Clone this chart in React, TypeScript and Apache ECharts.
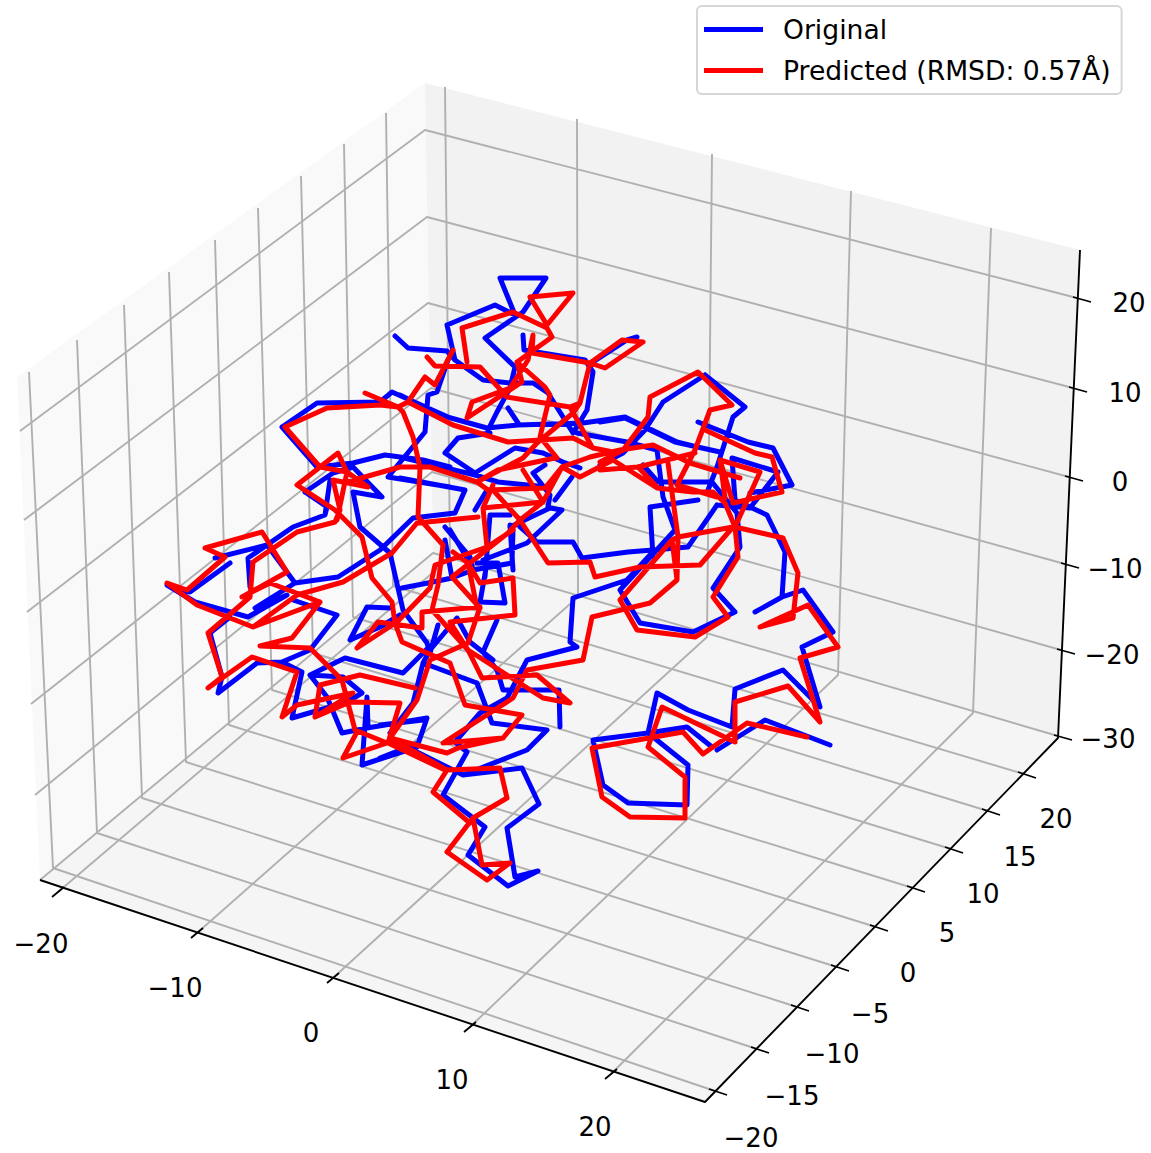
import React, { useEffect, useRef } from "react";
import * as echarts from "echarts";

type P = [number, number];
const W = 1151;
const H = 1153;
const FONT = "'DejaVu Sans', sans-serif";

// Screen-projected traces (the 3D view is flat in this chart)
const originalTrace: P[][] = [
  [[395,336],[408,348],[447,351],[455,360],[483,380],[510,383],[533,383],[548,393],[573,433],[587,410],[593,372],[585,360],[524,350],[523,335]],
  [[593,362],[627,340],[637,337]],
  [[447,325],[495,305],[515,315],[500,278],[546,278],[523,312],[485,338],[515,367],[510,388],[497,412],[488,430]],
  [[447,325],[455,360]],
  [[518,423],[508,408]],
  [[705,375],[663,402],[645,430],[623,453],[600,465]],
  [[705,375],[745,407],[733,417],[717,467],[708,490]],
  [[717,505],[688,547],[653,550],[628,552],[582,558],[573,542],[537,542],[520,527]],
  [[698,422],[748,442],[773,448],[792,485],[750,493]],
  [[732,458],[778,472],[750,508],[717,505]],
  [[732,458],[735,500],[767,515],[785,552],[782,597],[755,612]],
  [[782,597],[803,590],[833,632],[802,647],[820,707],[783,670],[735,689],[732,727],[688,710],[657,693],[648,733],[593,740],[603,785],[628,803],[687,805],[688,765],[648,733],[687,727],[712,747]],
  [[717,750],[765,720],[830,745]],
  [[698,500],[650,507],[653,557]],
  [[657,450],[663,497],[675,530],[620,590],[640,623],[693,632],[735,612],[713,588],[740,547],[737,513],[712,482],[658,482],[643,465]],
  [[600,422],[625,418],[675,442],[720,452]],
  [[577,433],[627,442],[657,450]],
  [[400,395],[440,415],[487,428],[518,425],[583,423],[625,417],[677,442],[697,447]],
  [[445,453],[458,438],[490,433]],
  [[445,453],[475,473],[515,448],[543,453],[563,462],[580,468]],
  [[400,457],[475,475],[498,482],[547,487]],
  [[475,510],[487,490]],
  [[485,577],[490,515],[510,515]],
  [[510,525],[513,570]],
  [[445,527],[470,557],[473,570]],
  [[510,527],[550,508],[562,510],[527,543],[483,560]],
  [[548,507],[550,495],[533,473],[545,465]],
  [[572,477],[555,500]],
  [[282,427],[317,403],[380,402],[392,392],[448,417]],
  [[282,427],[317,467],[353,463],[385,455],[423,460],[450,467]],
  [[305,492],[333,473],[353,467],[382,497],[353,492],[360,527],[390,553],[403,610],[427,643],[430,653]],
  [[305,492],[327,507],[325,515],[293,527],[248,558],[250,587]],
  [[330,480],[325,515]],
  [[450,487],[388,477],[425,432],[428,395],[437,392],[448,360]],
  [[400,478],[465,490],[455,513],[413,518],[380,550],[338,577],[295,583],[267,545],[215,558]],
  [[230,563],[190,592],[167,585],[195,602],[248,617],[287,595],[257,608]],
  [[295,583],[255,608]],
  [[230,617],[210,633],[222,677],[218,693],[257,663],[282,662],[310,650],[337,615],[293,600]],
  [[282,662],[302,672],[292,718],[347,702],[362,693],[343,677],[310,675],[345,658],[403,673],[428,648]],
  [[310,675],[327,697],[342,733],[367,728],[427,718],[417,747],[362,765],[367,697],[368,727]],
  [[390,608],[367,607],[350,640],[380,627],[400,615]],
  [[430,653],[438,625]],
  [[402,588],[428,583],[452,578],[473,570],[512,563],[513,530]],
  [[423,663],[450,673],[477,683]],
  [[452,578],[445,540]],
  [[470,563],[450,530]],
  [[477,563],[498,563],[505,603],[480,602],[487,563]],
  [[497,620],[483,652],[497,670],[503,690],[559,690],[560,727]],
  [[493,660],[470,642],[457,618],[430,650],[423,663],[413,703],[390,733]],
  [[423,720],[380,725]],
  [[418,743],[380,758]],
  [[393,740],[447,767],[463,775],[527,750],[547,730],[492,723],[477,683]],
  [[463,775],[522,768],[539,804],[507,828],[515,877],[538,871],[508,886],[468,855],[485,827],[443,795],[467,752],[455,742],[480,713],[507,698],[527,660],[577,647],[570,642],[573,598],[627,580],[650,555]],
];

const predictedTrace: P[][] = [
  [[530,297],[573,293],[547,325],[530,297]],
  [[513,312],[547,328],[552,337],[517,362],[545,387],[550,395],[540,437],[557,458]],
  [[513,312],[462,328],[467,362]],
  [[427,357],[435,366],[480,367],[507,397],[570,407],[580,403],[590,363],[532,353],[533,335],[528,360],[510,388],[472,402],[467,418],[522,382],[517,362]],
  [[590,363],[605,368],[643,342],[622,340],[590,363]],
  [[453,350],[435,385],[425,377],[408,402],[398,407],[365,393]],
  [[408,402],[453,425],[508,442],[573,438],[593,448],[613,452]],
  [[600,462],[623,450],[648,417],[650,397],[698,372],[732,405],[710,410],[695,450],[677,485],[717,497]],
  [[570,407],[592,447]],
  [[580,403],[573,413],[537,443],[523,458],[477,482],[430,467],[400,467],[347,482]],
  [[477,482],[488,490],[545,488],[562,467],[590,457],[620,450],[653,445],[690,463],[740,478]],
  [[562,467],[580,477],[613,460],[657,488],[693,492],[713,492],[725,503],[735,527]],
  [[477,482],[498,470],[555,458]],
  [[523,470],[543,502],[483,508],[493,485]],
  [[543,502],[562,467]],
  [[478,517],[417,523],[392,553],[343,582],[297,595],[253,627],[197,605],[167,583],[187,590],[225,557],[205,548],[262,532],[287,572],[242,597]],
  [[483,508],[487,547],[435,565],[430,588],[397,622],[357,648],[378,622],[422,628],[422,612],[480,607],[468,643],[430,660],[417,700],[390,738]],
  [[487,547],[513,530]],
  [[493,490],[520,520],[548,563],[590,562],[595,577],[640,567],[700,565],[733,527]],
  [[520,520],[543,502]],
  [[520,520],[508,533],[452,577],[480,608]],
  [[285,427],[327,408],[380,405],[398,407],[403,412],[413,437],[420,467],[418,517],[443,545],[438,585],[432,610],[468,650]],
  [[285,427],[320,467],[347,472],[338,453],[297,485],[335,510],[362,537],[372,578],[392,602],[395,623],[402,642],[450,663],[465,705],[522,715],[503,738],[443,743],[513,698],[527,670],[583,660],[592,617],[650,603],[677,580],[672,540],[620,600],[637,630],[695,637],[728,617],[713,597],[738,557],[735,527],[783,538],[798,573],[793,618],[760,627],[808,605],[838,647],[800,658],[820,722],[788,686],[735,702],[735,742],[662,707],[648,747],[685,777],[685,818],[630,817],[602,797],[592,748],[683,732],[703,754],[747,723],[807,737]],
  [[347,472],[337,520]],
  [[347,472],[368,487],[333,480],[340,510],[335,522],[297,532],[253,562],[250,597],[208,633],[222,677],[208,688],[252,657],[297,672],[282,717],[297,705],[353,693],[315,717],[320,685],[360,675],[415,688]],
  [[253,627],[320,602],[270,583],[242,597]],
  [[320,602],[292,638],[260,646],[310,648],[342,680],[355,730],[387,743],[343,758],[357,732]],
  [[315,717],[350,702],[400,703],[388,743],[445,770]],
  [[453,552],[468,563],[480,583],[513,578],[515,615],[450,622],[468,650],[482,678],[537,675],[570,703],[543,698],[468,650]],
  [[468,563],[477,608]],
  [[390,738],[447,770],[500,768],[507,798],[473,818],[447,852],[487,880],[510,863],[482,865],[473,818]],
  [[447,770],[433,792],[470,823]],
  [[390,738],[447,753],[458,748],[503,738]],
  [[668,463],[678,537],[733,527]],
  [[672,540],[678,537],[677,580]],
  [[705,430],[755,453],[772,457],[782,492],[733,503],[720,460],[760,472],[735,527]],
  [[720,460],[725,498]],
  [[638,467],[657,487]],
  [[600,470],[638,467],[695,453]],
];

const panes: { corners: P[]; fill: string }[] = [
  { corners: [[17,377],[425,83],[433,553],[40,880]], fill: "#f9f9f9" },
  { corners: [[425,83],[1080,250],[1058,738],[433,553]], fill: "#f2f2f2" },
  { corners: [[40,880],[433,553],[1058,738],[705,1102]], fill: "#f5f5f5" },
];

const xGrid: P[][] = [
  [[58,892],[450,558],[445,87]],
  [[197,933],[578,597],[577,119]],
  [[333,978],[707,637],[712,154]],
  [[470,1027],[838,675],[851,191]],
  [[611,1074],[973,713],[991,228]],
];
const yGrid: P[][] = [
  [[715,1091],[53,868],[29,372]],
  [[757,1049],[97,833],[77,340]],
  [[797,1007],[142,798],[124,305]],
  [[837,967],[186,762],[169,272]],
  [[876,927],[229,725],[215,240]],
  [[913,888],[272,690],[258,208]],
  [[951,849],[313,653],[301,176]],
  [[988,811],[353,617],[344,144]],
  [[1024,774],[393,586],[386,113]],
];
const zGrid: P[][] = [
  [[20,431],[425,130],[1077,298]],
  [[24,520],[427,217],[1073,388]],
  [[27,612],[428,303],[1069,477]],
  [[31,704],[431,388],[1065,564]],
  [[35,795],[432,472],[1061,650]],
  [[40,880],[433,553],[1058,736]],
];
const axisEdges: P[] = [[40,880],[705,1102],[1058,738],[1080,250]];

const xTickOffsets: P[] = [[-6,5],[6,-5]];
const yTickOffsets: P[] = [[-6,-2],[12,4]];
const zTickOffsets: P[] = [[-4,-1],[14,4]];

const xTickLabels = ["−20", "−10", "0", "10", "20"];
const xLabelPos: P[] = [[41,944],[175,988],[311,1033],[452,1080],[595,1127]];
const yTickLabels = ["−20", "−15", "−10", "−5", "0", "5", "10", "15", "20"];
const yLabelPos: P[] = [[751,1138],[792,1096],[832,1054],[870,1014],[908,973],[947,933],[983,894],[1020,857],[1056,819]];
const zTickLabels = ["20", "10", "0", "−10", "−20", "−30"];
const zLabelPos: P[] = [[1129,303],[1125,393],[1120,482],[1115,569],[1112,655],[1108,739]];

const legendNames = ["Original", "Predicted (RMSD: 0.57Å)"];

const BREAK: any = ["-", "-"];
const flatten = (pieces: P[][]) => {
  const out: any[] = [];
  pieces.forEach((p, i) => {
    if (i) out.push(BREAK);
    out.push(...p);
  });
  return out;
};
const tickPieces = (ends: P[], off: P[]) =>
  ends.map((e): P[] => off.map((o): P => [e[0] + o[0], e[1] + o[1]]));

const plain = (name: string, data: any[], color: string, width: number, z: number, round = false) => ({
  type: "line",
  name,
  data,
  z,
  silent: true,
  showSymbol: false,
  symbol: "none",
  smooth: false,
  connectNulls: false,
  clip: false,
  itemStyle: { color },
  lineStyle: { color, width, cap: round ? "round" : "butt", join: "round" },
});

export default function App() {
  const ref = useRef<HTMLDivElement>(null);
  useEffect(() => {
    document.body.style.margin = "0";
    const chart = echarts.init(ref.current!, undefined, { renderer: "svg" });
    const labels = [
      ...xTickLabels.map((t, i) => ({ t, p: xLabelPos[i] })),
      ...yTickLabels.map((t, i) => ({ t, p: yLabelPos[i] })),
      ...zTickLabels.map((t, i) => ({ t, p: zLabelPos[i] })),
    ];
    chart.setOption({
      animation: false,
      backgroundColor: "#ffffff",
      grid: { left: 0, right: 0, top: 0, bottom: 0 },
      xAxis: { type: "value", min: 0, max: W, show: false },
      yAxis: { type: "value", min: 0, max: H, inverse: true, show: false },
      legend: {
        data: legendNames,
        left: 697,
        top: 6,
        orient: "vertical",
        selectedMode: false,
        icon: "rect",
        itemWidth: 59,
        itemHeight: 5,
        itemGap: 14,
        padding: [10, 11, 10, 7],
        backgroundColor: "#ffffff",
        borderColor: "#d6d6d6",
        borderWidth: 2,
        borderRadius: 5,
        textStyle: { fontFamily: FONT, fontSize: 26.6, color: "#000000", padding: [0, 0, 0, 15] },
      },
      series: [
        {
          type: "custom",
          z: 1,
          silent: true,
          clip: false,
          data: panes.map((_, i) => [i, 0]),
          renderItem: (params: any, api: any) => {
            const pane = panes[params.dataIndex];
            return {
              type: "polygon",
              shape: { points: pane.corners.map((c) => api.coord(c)) },
              style: { fill: pane.fill, stroke: "none" },
            };
          },
        },
        plain("xGrid", flatten(xGrid), "#b0b0b0", 1.9, 2),
        plain("yGrid", flatten(yGrid), "#b0b0b0", 1.9, 2),
        plain("zGrid", flatten(zGrid), "#b0b0b0", 1.9, 2),
        plain("axes", axisEdges, "#000000", 1.9, 3),
        plain("xTicks", flatten(tickPieces(xGrid.map((g) => g[0]), xTickOffsets)), "#000000", 1.8, 3),
        plain("yTicks", flatten(tickPieces(yGrid.map((g) => g[0]), yTickOffsets)), "#000000", 1.8, 3),
        plain("zTicks", flatten(tickPieces(zGrid.map((g) => g[2]), zTickOffsets)), "#000000", 1.8, 3),
        {
          type: "custom",
          z: 4,
          silent: true,
          clip: false,
          data: labels.map((l) => l.p),
          renderItem: (params: any, api: any) => {
            const c = api.coord([api.value(0), api.value(1)]);
            return {
              type: "text",
              x: c[0],
              y: c[1],
              style: {
                text: labels[params.dataIndex].t,
                fontFamily: FONT,
                fontSize: 26,
                fill: "#000000",
                align: "center",
                verticalAlign: "middle",
              },
            };
          },
        },
        plain(legendNames[0], flatten(originalTrace), "#0000ff", 5, 5, true),
        plain(legendNames[1], flatten(predictedTrace), "#ff0000", 5, 6, true),
      ],
    });
    return () => chart.dispose();
  }, []);
  return <div ref={ref} style={{ position: "fixed", left: 0, top: 0, width: W, height: H }} />;
}
